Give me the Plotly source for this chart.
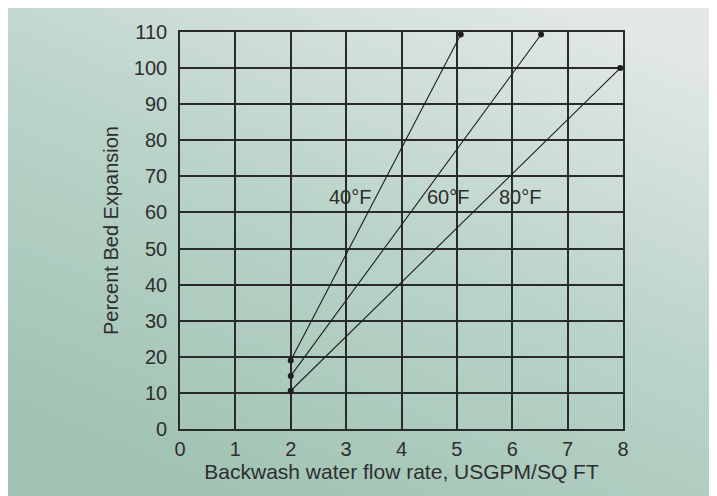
import base64
import plotly.graph_objects as go

# Data
series_names = ["40°F", "60°F", "80°F"]
flow_40 = [2.0, 5.07]
exp_40 = [19.0, 109.3]
flow_60 = [2.0, 6.52]
exp_60 = [14.7, 109.3]
flow_80 = [2.0, 7.95]
exp_80 = [10.6, 100.0]

label_x = [3.07, 4.84, 6.14]
label_y = [64.3, 64.3, 64.3]

x_ticks = [0, 1, 2, 3, 4, 5, 6, 7, 8]
y_ticks = [0, 10, 20, 30, 40, 50, 60, 70, 80, 90, 100, 110]

# The page places the figure 8px from the top-left corner
W, H = 717, 496
L, R, T, B = 172, 102, 24, 75

FONT = "Liberation Sans, Arial, Helvetica, sans-serif"
TXT = "#2e2e2e"
GRID = "#2a2a2a"

fig = go.Figure()
for name, xs, ys in zip(series_names, [flow_40, flow_60, flow_80], [exp_40, exp_60, exp_80]):
    fig.add_trace(go.Scatter(
        x=xs, y=ys, mode="lines+markers", name=name,
        line=dict(color="#1e1e1e", width=1.1),
        marker=dict(color="#1e1e1e", size=6),
        showlegend=False, hoverinfo="skip",
        cliponaxis=False,
    ))

for name, lx, ly in zip(series_names, label_x, label_y):
    fig.add_annotation(x=lx, y=ly, xref="x", yref="y", text=name, showarrow=False,
                       font=dict(family=FONT, size=20, color=TXT))

# Background gradient (green-gray bottom-left to light gray top-right)
svg = f'''<svg xmlns="http://www.w3.org/2000/svg" width="{W}" height="{H}" viewBox="0 0 {W} {H}" preserveAspectRatio="none">
<defs><linearGradient id="g" x1="0.25" y1="1" x2="0.85" y2="0">
<stop offset="0" stop-color="#9fc2b2"/>
<stop offset="0.5" stop-color="#b9d3c8"/>
<stop offset="1" stop-color="#e4e9e7"/>
</linearGradient></defs>
<rect x="0" y="0" width="{W}" height="{H}" fill="url(#g)"/>
</svg>'''
uri = "data:image/svg+xml;base64," + base64.b64encode(svg.encode()).decode()
pw, ph = W - L - R, H - T - B
x0 = (0 - L) / pw
x1 = (W - L) / pw
ytop = (H - B) / ph
ybot = (H - B - H) / ph
fig.add_layout_image(dict(source=uri, xref="paper", yref="paper", x=x0, y=ytop,
                          sizex=x1 - x0, sizey=ytop - ybot, sizing="stretch",
                          xanchor="left", yanchor="top", layer="below"))

axis_common = dict(showgrid=True, gridcolor=GRID, gridwidth=1.6,
                   showline=True, linecolor=GRID, linewidth=1.6, mirror=True,
                   zeroline=False, ticks="",
                   tickfont=dict(family=FONT, size=20, color=TXT))

fig.update_xaxes(range=[0, 8], tickvals=x_ticks, ticktext=[str(v) for v in x_ticks],
                 ticklabelstandoff=1,
                 title=dict(text="Backwash water flow rate, USGPM/SQ FT",
                            font=dict(family=FONT, size=21, color=TXT), standoff=4),
                 **axis_common)
fig.update_yaxes(range=[0, 110], tickvals=y_ticks, ticktext=[str(v) for v in y_ticks],
                 ticklabelstandoff=7,
                 title=dict(text="Percent Bed Expansion",
                            font=dict(family=FONT, size=20, color=TXT), standoff=10),
                 **axis_common)

fig.update_layout(width=W, height=H, margin=dict(l=L, r=R, t=T, b=B, autoexpand=False),
                  paper_bgcolor="white", plot_bgcolor="white")

fig.write_html("out.html")
